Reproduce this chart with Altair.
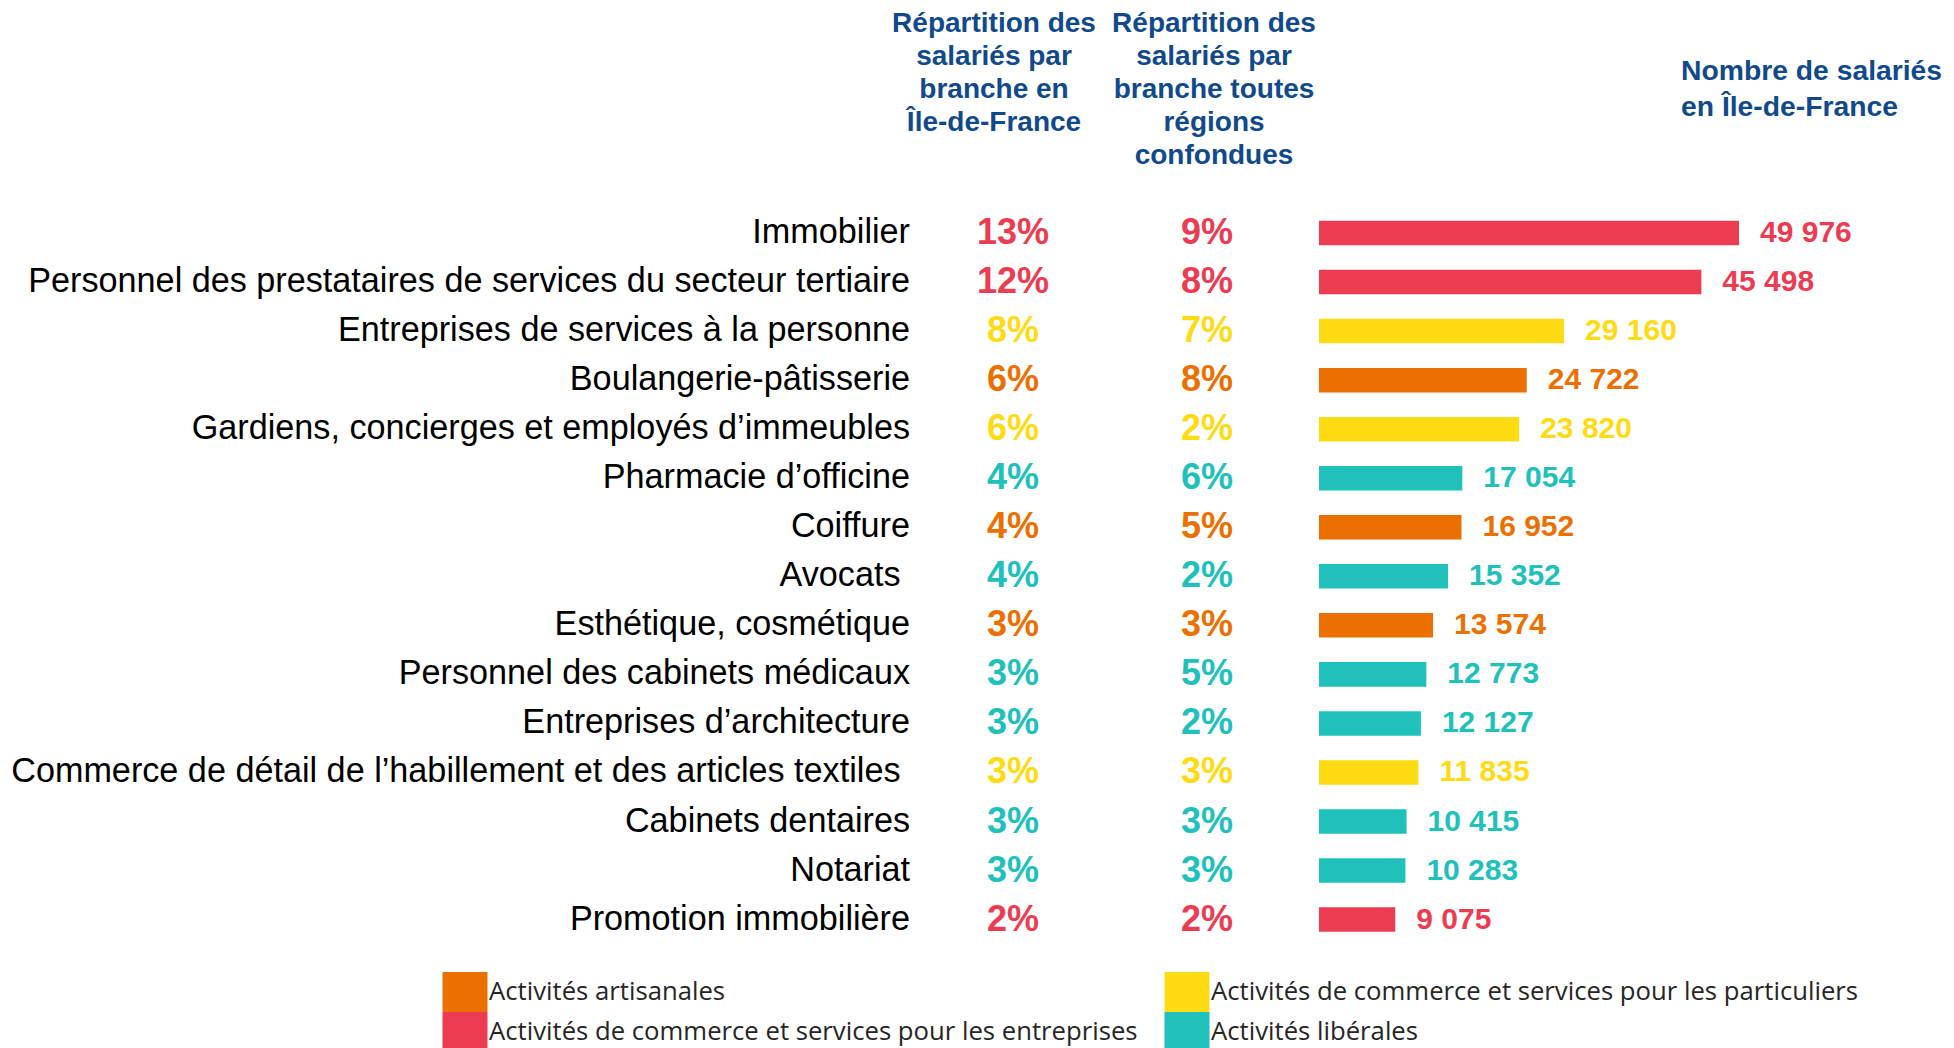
import altair as alt
import pandas as pd

branches = [
    "Immobilier",
    "Personnel des prestataires de services du secteur tertiaire",
    "Entreprises de services à la personne",
    "Boulangerie-pâtisserie",
    "Gardiens, concierges et employés d’immeubles",
    "Pharmacie d’officine",
    "Coiffure",
    "Avocats\u00a0\u200b",
    "Esthétique, cosmétique",
    "Personnel des cabinets médicaux",
    "Entreprises d’architecture",
    "Commerce de détail de l’habillement et des articles textiles\u00a0\u200b",
    "Cabinets dentaires",
    "Notariat",
    "Promotion immobilière",
]
groupe_codes = ["E", "E", "P", "A", "P", "L", "A", "L", "A", "L", "L", "P", "L", "L", "E"]
pct_idf = [13, 12, 8, 6, 6, 4, 4, 4, 3, 3, 3, 3, 3, 3, 2]
pct_toutes = [9, 8, 7, 8, 2, 6, 5, 2, 3, 5, 2, 3, 3, 3, 2]
salaries = [49976, 45498, 29160, 24722, 23820, 17054, 16952, 15352, 13574, 12773,
            12127, 11835, 10415, 10283, 9075]

groupe_names = {
    "A": "Activités artisanales",
    "P": "Activités de commerce et services pour les particuliers",
    "E": "Activités de commerce et services pour les entreprises",
    "L": "Activités libérales",
}
legend_order = [groupe_names[k] for k in ["A", "P", "E", "L"]]
legend_colors = ["#EC7000", "#FFDB14", "#EC3C52", "#20C1BB"]

header_idf = "Répartition des\nsalariés par\nbranche en\nÎle-de-France"
header_toutes = "Répartition des\nsalariés par\nbranche toutes\nrégions\nconfondues"
header_nombre = "Nombre de salariés\nen Île-de-France"

df = pd.DataFrame({
    "branche": branches,
    "groupe": [groupe_names[g] for g in groupe_codes],
    "idf": [f"{p}%" for p in pct_idf],
    "toutes": [f"{p}%" for p in pct_toutes],
    "n": salaries,
    "n_label": [f"{v:,}".replace(",", " ") for v in salaries],
})

BLUE = "#114A8B"
FONT = "Liberation Sans"

color = alt.Color(
    "groupe:N",
    scale=alt.Scale(domain=legend_order, range=legend_colors),
    legend=alt.Legend(
        title=None,
        orient="none",
        legendX=437,
        legendY=964,
        columns=2,
        direction="horizontal",
        symbolType="M-1.125,-1L1.125,-1L1.125,1L-1.125,1Z",
        symbolSize=1600,
        symbolStrokeWidth=0,
        symbolOpacity=1,
        rowPadding=0,
        columnPadding=26,
        padding=0,
        labelFont="Open Sans",
        labelFontSize=25.7,
        labelColor="#262626",
        labelOffset=4,
        labelLimit=1000,
    ),
)

y = alt.Y(
    "branche:N",
    sort=branches,
    scale=alt.Scale(range=[200.5, 936.1], paddingInner=0.5, paddingOuter=0.25),
    axis=None,
)
xs = alt.Scale(domain=[0, 50000], range=[1311, 1731.2], nice=False, zero=True)

base = alt.Chart(df)

bars = base.mark_bar().encode(
    y=y,
    x=alt.X("n:Q", scale=xs, axis=None),
    color=color,
)

values = base.mark_text(
    align="left", baseline="middle", dx=21, font=FONT, fontWeight="bold", fontSize=30
).encode(
    y=y,
    x=alt.X("n:Q", scale=xs, axis=None),
    text="n_label:N",
    color=alt.Color("groupe:N", legend=None),
)

labels = base.mark_text(
    align="right", baseline="middle", font=FONT, fontSize=34.2, color="#000000"
).encode(y=y, x=alt.value(902), text="branche:N")

pct1 = base.mark_text(
    align="center", baseline="middle", font=FONT, fontWeight="bold", fontSize=36
).encode(y=y, x=alt.value(1005), text="idf:N", color=alt.Color("groupe:N", legend=None))

pct2 = base.mark_text(
    align="center", baseline="middle", font=FONT, fontWeight="bold", fontSize=36
).encode(y=y, x=alt.value(1199), text="toutes:N", color=alt.Color("groupe:N", legend=None))


def header(txt, x, yv, align, lh, size):
    return alt.Chart(pd.DataFrame({"t": [txt]})).mark_text(
        align=align, baseline="alphabetic", lineBreak="\n", lineHeight=lh,
        font=FONT, fontWeight="bold", fontSize=size, color=BLUE,
    ).encode(x=alt.value(x), y=alt.value(yv), text="t:N")


h1 = header(header_idf, 986, 24, "center", 33, 28)
h2 = header(header_toutes, 1206, 24, "center", 33, 28)
h3 = header(header_nombre, 1673, 72, "left", 36, 28.3)

chart = alt.layer(bars, values, labels, pct1, pct2, h1, h2, h3).properties(
    width=1938,
    height=1040,
    padding=0,
    autosize=alt.AutoSizeParams(type="none"),
).configure_view(stroke=None)

chart.save("out.html", embed_options={"renderer": "svg", "actions": False})
